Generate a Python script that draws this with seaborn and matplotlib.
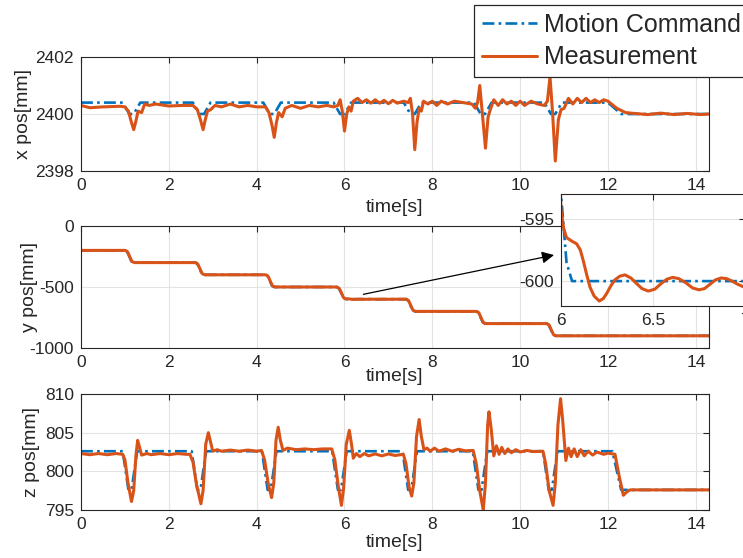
import matplotlib
matplotlib.use("Agg")
import matplotlib.pyplot as plt
from matplotlib.lines import Line2D
import pandas as pd
import seaborn as sns

BLUE = "#0072BD"
ORANGE = "#D95319"
AXIS_GREY = "#262626"

# ---------------- x position ----------------
x_cmd_t = [0.0, 0.95, 1.1, 1.2, 1.35, 2.55, 2.7, 2.8, 2.95, 4.15, 4.3, 4.4, 4.55,
           5.75, 5.9, 6.0, 6.15, 7.35, 7.5, 7.6, 7.75, 8.95, 9.1, 9.2, 9.35,
           10.55, 10.7, 10.8, 10.95, 12.0, 12.3, 14.3]
x_cmd = [2400.4, 2400.4, 2400.0, 2400.0, 2400.4, 2400.4, 2400.0, 2400.0, 2400.4,
         2400.4, 2400.0, 2400.0, 2400.4, 2400.4, 2400.0, 2400.0, 2400.4,
         2400.4, 2400.0, 2400.0, 2400.4, 2400.4, 2400.0, 2400.0, 2400.4,
         2400.4, 2400.0, 2400.0, 2400.4, 2400.4, 2400.0, 2400.0]

x_meas_t = [0.0, 0.2, 0.5, 0.9, 1.0, 1.08, 1.15, 1.2, 1.25, 1.3, 1.38, 1.45, 1.55,
            1.7, 2.0, 2.3, 2.55, 2.65, 2.72, 2.78, 2.83, 2.88, 2.95, 3.05, 3.2,
            3.4, 3.6, 3.8, 4.0, 4.2, 4.28, 4.35, 4.4, 4.45, 4.5, 4.58, 4.65,
            4.8, 5.0, 5.2, 5.4, 5.6, 5.75, 5.85, 5.9, 5.95, 6.0, 6.05, 6.1,
            6.15, 6.2, 6.3, 6.4, 6.5, 6.6, 6.7, 6.8, 6.9, 7.0, 7.1, 7.2, 7.35,
            7.45, 7.5, 7.55, 7.6, 7.65, 7.7, 7.75, 7.8, 7.9, 8.0, 8.1, 8.2,
            8.35, 8.5, 8.7, 8.9, 8.98, 9.03, 9.08, 9.14, 9.21, 9.27, 9.33, 9.4,
            9.5, 9.6, 9.7, 9.8, 9.9, 10.0, 10.1, 10.25, 10.4, 10.55, 10.62,
            10.68, 10.74, 10.8, 10.87, 10.93, 11.0, 11.1, 11.2, 11.3, 11.4,
            11.5, 11.6, 11.7, 11.8, 11.9, 12.0, 12.2, 12.4, 12.6, 12.9, 13.2,
            13.5, 13.8, 14.1, 14.3]
x_meas = [2400.3, 2400.22, 2400.25, 2400.27, 2400.25, 2400.1, 2399.7, 2399.45,
          2399.75, 2400.1, 2400.05, 2400.35, 2400.3, 2400.35, 2400.28, 2400.3,
          2400.3, 2400.15, 2399.8, 2399.45, 2399.8, 2400.1, 2400.15, 2400.3,
          2400.25, 2400.35, 2400.25, 2400.3, 2400.25, 2400.25, 2400.05, 2399.6,
          2399.18, 2399.7, 2400.05, 2399.9, 2400.2, 2400.3, 2400.2, 2400.3,
          2400.25, 2400.3, 2400.25, 2400.3, 2400.5, 2400.1, 2399.4, 2400.0,
          2400.25, 2400.1, 2400.45, 2400.55, 2400.4, 2400.5, 2400.38, 2400.5,
          2400.38, 2400.48, 2400.36, 2400.48, 2400.38, 2400.45, 2400.4,
          2400.55, 2400.0, 2398.75, 2399.7, 2400.2, 2400.1, 2400.45, 2400.35,
          2400.45, 2400.3, 2400.45, 2400.35, 2400.45, 2400.4, 2400.35, 2400.2,
          2400.4, 2401.0, 2400.0, 2398.8, 2399.9, 2400.2, 2400.5, 2400.3,
          2400.5, 2400.35, 2400.45, 2400.3, 2400.45, 2400.3, 2400.45, 2400.35,
          2400.3, 2400.45, 2401.3, 2400.0, 2398.35, 2399.8, 2400.15, 2400.2,
          2400.55, 2400.35, 2400.55, 2400.4, 2400.55, 2400.4, 2400.5, 2400.4,
          2400.5, 2400.45, 2400.2, 2400.05, 2400.02, 2399.98, 2400.03,
          2399.98, 2400.02, 2399.98, 2400.0]

# ---------------- y position ----------------
y_cmd_t = [0.0, 1.0, 1.05, 1.1, 1.15, 1.2, 2.6, 2.65, 2.7, 2.75, 2.8,
           4.2, 4.25, 4.3, 4.35, 4.4, 5.82, 5.87, 5.92, 5.97, 6.0, 6.03, 6.06,
           7.4, 7.45, 7.5, 7.55, 7.6, 9.0, 9.05, 9.1, 9.15, 9.2,
           10.6, 10.65, 10.7, 10.75, 10.8, 14.3]
y_cmd = [-200, -200, -210, -250, -290, -300, -300, -310, -350, -390, -400,
         -400, -410, -450, -490, -500, -500, -510, -545, -580, -593, -598.5, -600,
         -600, -610, -650, -690, -700, -700, -710, -750, -790, -800,
         -800, -810, -850, -890, -900, -900]

y_meas_t = [0.0, 1.01, 1.06, 1.11, 1.16, 1.22, 2.61, 2.66, 2.71, 2.76, 2.82,
            4.21, 4.26, 4.31, 4.36, 4.42, 5.83, 5.88, 5.93, 5.97, 6.0, 6.015,
            6.03, 6.06, 6.085, 6.105, 6.12, 6.14, 6.158, 6.18, 6.208, 6.23,
            6.248, 6.27, 6.293, 6.32, 6.348, 6.38, 6.411, 6.44, 6.474, 6.51,
            6.54, 6.575, 6.607, 6.64, 6.68, 6.715, 6.75, 6.78, 6.81, 6.84,
            6.87, 6.9, 6.93, 6.96, 6.99, 7.03, 7.08, 7.15, 7.25, 7.41, 7.46,
            7.51, 7.56, 7.62, 9.01, 9.06, 9.11, 9.16, 9.22, 10.61, 10.66,
            10.71, 10.76, 10.82, 14.3]
y_meas = [-200, -200, -212, -252, -291, -300, -300, -312, -352, -391, -400,
          -400, -412, -452, -491, -500, -500, -512, -548, -582, -594.3, -595.8,
          -596.5, -596.8, -597.0, -597.5, -598.3, -599.5, -600.5, -601.2,
          -601.6, -601.4, -601.0, -600.4, -599.9, -599.6, -599.5, -599.75,
          -600.2, -600.6, -600.8, -600.65, -600.25, -599.85, -599.7, -599.8,
          -600.15, -600.55, -600.7, -600.6, -600.25, -599.9, -599.75, -599.8,
          -600.0, -600.25, -600.45, -600.55, -600.45, -600.1, -599.9, -600,
          -612, -652, -691, -700, -700, -712, -752, -791, -800, -800, -812,
          -852, -891, -900, -900]

# ---------------- z position ----------------
z_cmd_t = [0.0, 0.95, 1.08, 1.15, 1.28, 2.52, 2.65, 2.72, 2.85, 4.12, 4.25,
           4.32, 4.45, 5.72, 5.85, 5.92, 6.05, 7.32, 7.45, 7.52, 7.65, 8.92,
           9.05, 9.12, 9.25, 10.52, 10.65, 10.72, 10.85, 12.1, 12.3, 14.3]
z_cmd = [802.6, 802.6, 797.6, 797.6, 802.6, 802.6, 797.6, 797.6, 802.6, 802.6,
         797.6, 797.6, 802.6, 802.6, 797.6, 797.6, 802.6, 802.6, 797.6, 797.6,
         802.6, 802.6, 797.6, 797.6, 802.6, 802.6, 797.6, 797.6, 802.6, 802.6,
         797.6, 797.6]

z_meas_t = [0.0, 0.2, 0.4, 0.6, 0.8, 0.95, 1.0, 1.07, 1.15, 1.2, 1.25, 1.29,
            1.33, 1.38, 1.5, 1.6, 1.8, 2.0, 2.2, 2.4, 2.48, 2.55, 2.63, 2.73,
            2.78, 2.84, 2.9, 2.95, 3.0, 3.1, 3.2, 3.4, 3.6, 3.8, 4.0, 4.11,
            4.18, 4.26, 4.34, 4.39, 4.44, 4.49, 4.54, 4.6, 4.7, 4.9, 5.1, 5.3,
            5.5, 5.71, 5.78, 5.86, 5.93, 5.98, 6.04, 6.11, 6.16, 6.2, 6.27,
            6.35, 6.45, 6.55, 6.7, 6.85, 7.0, 7.15, 7.34, 7.4, 7.47, 7.53,
            7.58, 7.64, 7.7, 7.75, 7.81, 7.88, 7.95, 8.05, 8.15, 8.3, 8.45,
            8.6, 8.75, 8.93, 9.0, 9.08, 9.16, 9.21, 9.26, 9.29, 9.34, 9.4,
            9.46, 9.52, 9.58, 9.65, 9.72, 9.8, 9.9, 10.0, 10.15, 10.3, 10.52,
            10.58, 10.66, 10.75, 10.8, 10.86, 10.92, 10.97, 11.04, 11.1,
            11.16, 11.23, 11.3, 11.38, 11.46, 11.55, 11.65, 11.75, 11.9, 12.0,
            12.16, 12.25, 12.35, 12.42, 12.5, 14.3]
z_meas = [802.3, 802.15, 802.3, 802.15, 802.3, 802.2, 801.5, 798.5, 796.1,
          797.5, 802.0, 804.0, 803.2, 802.1, 802.3, 802.15, 802.3, 802.15,
          802.3, 802.2, 802.2, 801.2, 798.3, 795.8, 797.5, 803.5, 805.0,
          803.8, 802.6, 802.8, 802.6, 802.75, 802.6, 802.75, 802.6, 802.7,
          801.5, 798.5, 796.6, 798.5, 804.0, 805.7, 804.0, 802.7, 803.0,
          802.8, 802.9, 802.8, 802.9, 802.9, 801.5, 798.0, 795.6, 797.8,
          803.5, 805.3, 803.5, 801.7, 802.3, 801.9, 802.3, 802.0, 802.25,
          802.0, 802.25, 802.05, 802.2, 801.0, 798.0, 796.8, 798.5, 804.5,
          806.7, 804.5, 802.8, 803.0, 802.6, 803.0, 802.6, 802.9, 802.6,
          802.85, 802.65, 802.7, 801.0, 797.5, 795.0, 798.5, 806.0, 807.7,
          805.5, 802.0, 803.3, 802.2, 803.1, 802.3, 802.9, 802.4, 802.8,
          802.5, 802.7, 802.55, 802.6, 801.0, 797.5, 795.6, 798.5, 806.0,
          809.4, 806.5, 801.4, 803.0, 801.9, 802.9, 801.9, 802.8, 802.0,
          802.6, 802.1, 802.5, 802.2, 802.35, 802.2, 799.5, 796.9, 797.3,
          797.6, 797.6]

# ---------------- axis labels / ticks ----------------
x_ticks = [0, 2, 4, 6, 8, 10, 12, 14]
x_ylabel, y_ylabel, z_ylabel = "x pos[mm]", "y pos[mm]", "z pos[mm]"
time_label = "time[s]"
legend_labels = ["Motion Command", "Measurement"]
inset_xticks = [6, 6.5, 7]
inset_yticks = [-600, -595]

sns.set_theme(style="white")
plt.rcParams.update({
    "font.family": ["Liberation Sans", "DejaVu Sans"],
    "axes.unicode_minus": False,
    "axes.edgecolor": AXIS_GREY,
    "axes.linewidth": 0.8,
    "xtick.direction": "in",
    "ytick.direction": "in",
    "xtick.top": True,
    "ytick.right": True,
    "xtick.color": AXIS_GREY,
    "ytick.color": AXIS_GREY,
    "xtick.labelcolor": "#262626",
    "ytick.labelcolor": "#262626",
    "xtick.major.size": 4,
    "ytick.major.size": 4,
    "xtick.major.width": 0.8,
    "ytick.major.width": 0.8,
    "xtick.labelsize": 12.5,
    "ytick.labelsize": 12.5,
    "xtick.major.pad": 5,
    "ytick.major.pad": 5,
    "grid.color": "#e3e3e3",
    "grid.linewidth": 0.8,
    "axes.labelsize": 14,
    "axes.labelcolor": "#262626",
})

W, H = 743, 558
fig = plt.figure(figsize=(W / 100, H / 100), dpi=100)


def frac(left, top, right, bottom):
    return [left / W, 1 - bottom / H, (right - left) / W, (bottom - top) / H]


ax_x = fig.add_axes(frac(81, 57, 709, 171))
ax_y = fig.add_axes(frac(81, 226, 709, 348))
ax_z = fig.add_axes(frac(81, 394, 709, 510))
ax_in = fig.add_axes(frac(561, 194, 745, 306))

CMD_STYLE = dict(color=BLUE, lw=1.9, linestyle=(0, (4.5, 1.6, 1.0, 1.6)))
MEAS_STYLE = dict(color=ORANGE, lw=2.2, solid_joinstyle="round")


def draw(ax, t_c, v_c, t_m, v_m):
    cmd = pd.DataFrame({"t": t_c, "v": v_c})
    meas = pd.DataFrame({"t": t_m, "v": v_m})
    sns.lineplot(data=cmd, x="t", y="v", ax=ax, estimator=None, sort=False, **CMD_STYLE)
    sns.lineplot(data=meas, x="t", y="v", ax=ax, estimator=None, sort=False, **MEAS_STYLE)


draw(ax_x, x_cmd_t, x_cmd, x_meas_t, x_meas)
draw(ax_y, y_cmd_t, y_cmd, y_meas_t, y_meas)
draw(ax_z, z_cmd_t, z_cmd, z_meas_t, z_meas)
draw(ax_in, y_cmd_t, y_cmd, y_meas_t, y_meas)

panels = [
    (ax_x, (2398, 2402), [2398, 2400, 2402], x_ylabel, -0.316, -0.078),
    (ax_y, (-1000, 0), [-1000, -500, 0], y_ylabel, -0.234, -0.068),
    (ax_z, (795, 810), [795, 800, 805, 810], z_ylabel, -0.284, -0.065),
]
for ax, ylim, yticks, ylab, xlab_y, ylab_x in panels:
    ax.set_xlim(0, 14.3)
    ax.set_ylim(*ylim)
    ax.set_xticks(x_ticks)
    ax.set_yticks(yticks)
    ax.grid(True)
    ax.set_axisbelow(True)
    ax.set_ylabel(ylab)
    ax.set_xlabel(time_label)
    ax.xaxis.label.set_va("center")
    ax.xaxis.set_label_coords(0.5, xlab_y)
    ax.yaxis.set_label_coords(ylab_x, 0.5)
    for s in ax.spines.values():
        s.set_visible(True)

ax_in.set_xlim(6, 7)
ax_in.set_ylim(-602, -593)
ax_in.set_xticks(inset_xticks)
ax_in.set_xticklabels(["6", "6.5", "7"])
ax_in.set_yticks(inset_yticks)
ax_in.grid(True)
ax_in.set_axisbelow(True)
ax_in.set_xlabel("")
ax_in.set_ylabel("")
ax_in.set_facecolor("white")
ax_in.set_zorder(5)
for s in ax_in.spines.values():
    s.set_visible(True)

# pointer from the main y trace to the zoomed view
ax_y.annotate("", xy=(-0.038, 0.455), xycoords=ax_in.transAxes,
              xytext=(6.43, -560), textcoords="data",
              arrowprops=dict(arrowstyle="-|>", color="black", lw=0.9,
                              mutation_scale=18, shrinkA=0, shrinkB=0),
              annotation_clip=False)

handles = [Line2D([], [], **CMD_STYLE), Line2D([], [], **MEAS_STYLE)]
leg = fig.legend(handles, legend_labels, loc="upper left",
                 bbox_to_anchor=(474 / W, 1 - 5 / H), bbox_transform=fig.transFigure,
                 fontsize=18, frameon=True, fancybox=False, framealpha=1,
                 edgecolor="#262626", borderaxespad=0, handlelength=2.2,
                 handletextpad=0.3, labelspacing=0.35, borderpad=0.3)
leg.get_frame().set_linewidth(0.9)
leg.set_zorder(10)

fig.savefig("out.png", dpi=100)
